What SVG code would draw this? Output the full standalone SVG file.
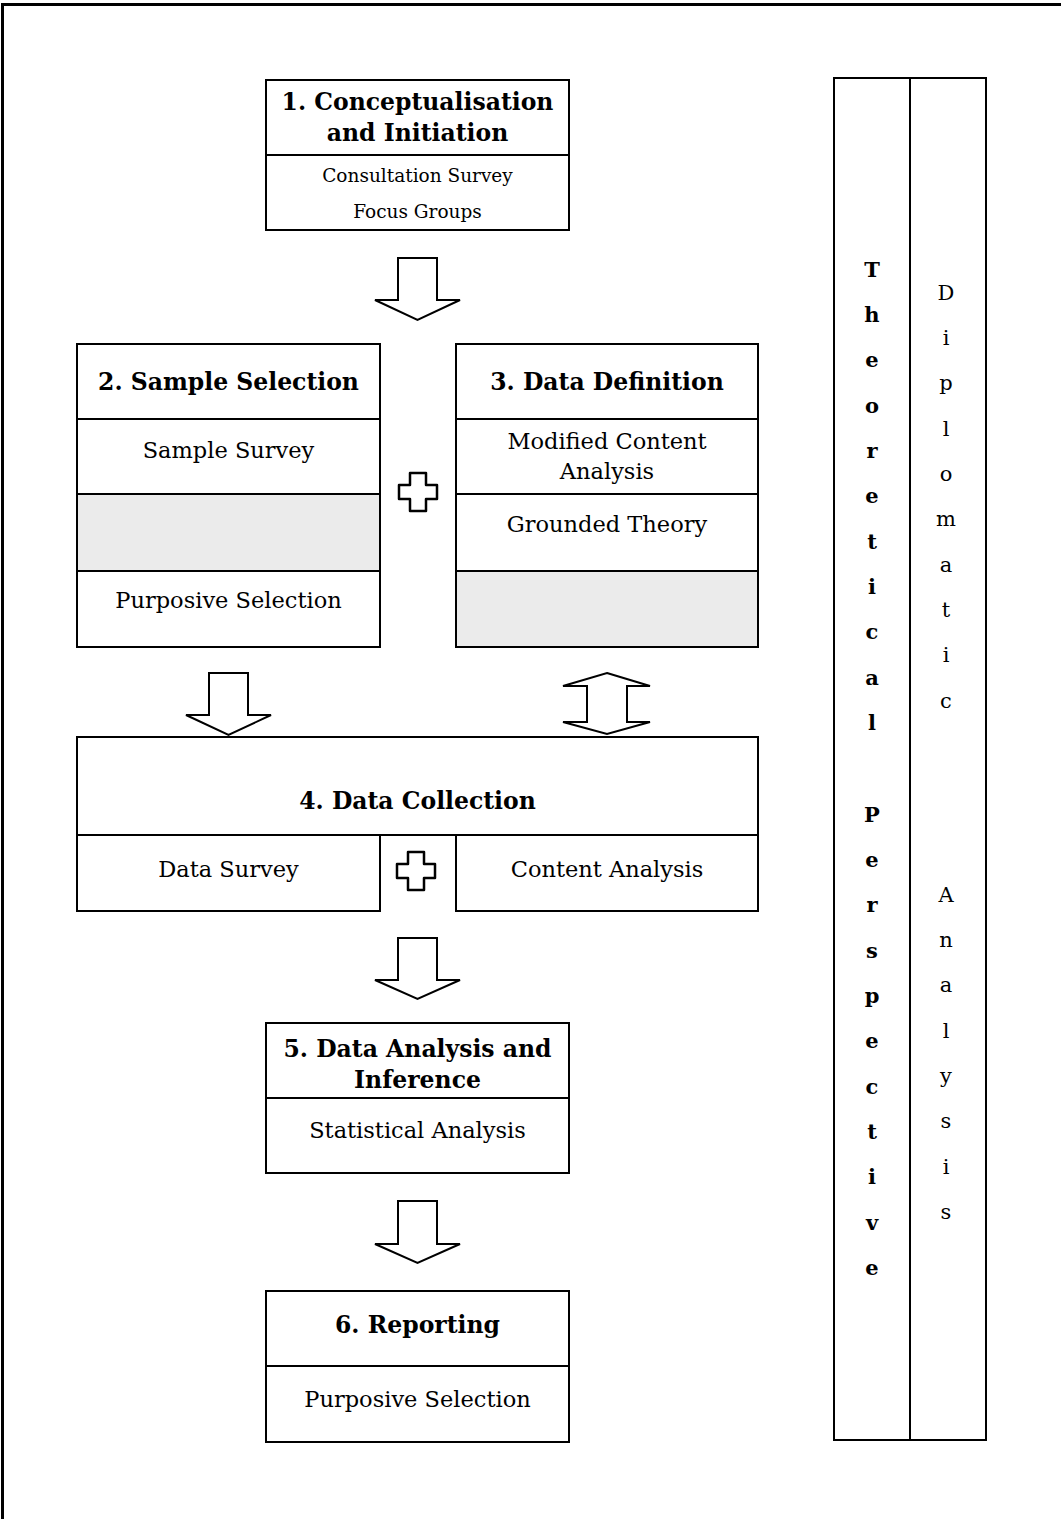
<svg xmlns="http://www.w3.org/2000/svg" xmlns:xlink="http://www.w3.org/1999/xlink" width="1061" height="1519" viewBox="0 0 1061 1519">
<style>
.box{fill:#fff;stroke:#000;stroke-width:2}
.gray{fill:#ebebeb;stroke:#000;stroke-width:2}
.arr{fill:#fff;stroke:#000;stroke-width:2;stroke-linejoin:miter}
.t{font-family:"DejaVu Serif","Liberation Serif",serif;fill:#000;text-anchor:middle}
.b{font-weight:bold;font-size:23.5px}
.s{font-size:22.5px}
.xs{font-size:18.5px}
.v{font-family:"DejaVu Serif","Liberation Serif",serif;font-size:21px;text-anchor:middle}
</style>
<defs>
<path id="plus" d="M-8,-19 H8 V-7 H19 V7 H8 V19 H-8 V7 H-19 V-7 H-8 Z" fill="#fff" stroke="#000" stroke-width="2.5" stroke-linejoin="round"/>
</defs>
<path d="M2.5,1519 V4.5 H1061" fill="none" stroke="#000" stroke-width="3"/>

<g id="connectors">
<polygon class="arr" points="398,258 437,258 437,300 460,300 417.5,320 375,300 398,300"/>
<polygon class="arr" points="209,673 248,673 248,715 271,715 228.5,735 186,715 209,715"/>
<polygon class="arr" points="607,673 650,686 627,686 627,722 650,722 607,734 563,722 587,722 587,686 563,686"/>
<polygon class="arr" points="398,938 437,938 437,980 460,980 417.5,999 375,980 398,980"/>
<polygon class="arr" points="398,1201 437,1201 437,1244 460,1244 417.5,1263 375,1244 398,1244"/>
<use xlink:href="#plus" x="418" y="492"/>
<use xlink:href="#plus" x="416" y="871"/>
</g>

<g id="node1">
<rect class="box" x="266" y="80" width="303" height="150"/>
<line x1="266" y1="155" x2="569" y2="155" stroke="#000" stroke-width="2"/>
<text class="t b" x="417.5" y="110">1. Conceptualisation</text>
<text class="t b" x="417.5" y="141">and Initiation</text>
<text class="t xs" x="417.5" y="182">Consultation Survey</text>
<text class="t xs" x="417.5" y="218">Focus Groups</text>
</g>

<g id="node2">
<rect class="box" x="77" y="344" width="303" height="303"/>
<line x1="77" y1="419" x2="380" y2="419" stroke="#000" stroke-width="2"/>
<rect class="gray" x="77" y="494" width="303" height="77"/>
<text class="t b" x="228.5" y="390">2. Sample Selection</text>
<text class="t s" x="228.5" y="458">Sample Survey</text>
<text class="t s" x="228.5" y="608">Purposive Selection</text>
</g>

<g id="node3">
<rect class="box" x="456" y="344" width="302" height="303"/>
<line x1="456" y1="419" x2="758" y2="419" stroke="#000" stroke-width="2"/>
<line x1="456" y1="494" x2="758" y2="494" stroke="#000" stroke-width="2"/>
<rect class="gray" x="456" y="571" width="302" height="76"/>
<text class="t b" x="607" y="390">3. Data Definition</text>
<text class="t s" x="607" y="449">Modified Content</text>
<text class="t s" x="607" y="479">Analysis</text>
<text class="t s" x="607" y="532">Grounded Theory</text>
</g>

<g id="node4">
<rect class="box" x="77" y="737" width="681" height="98"/>
<rect class="box" x="77" y="835" width="303" height="76"/>
<rect class="box" x="456" y="835" width="302" height="76"/>
<text class="t b" x="417.5" y="809">4. Data Collection</text>
<text class="t s" x="228.5" y="877">Data Survey</text>
<text class="t s" x="607" y="877">Content Analysis</text>
</g>

<g id="node5">
<rect class="box" x="266" y="1023" width="303" height="150"/>
<line x1="266" y1="1098" x2="569" y2="1098" stroke="#000" stroke-width="2"/>
<text class="t b" x="417.5" y="1057">5. Data Analysis and</text>
<text class="t b" x="417.5" y="1088">Inference</text>
<text class="t s" x="417.5" y="1138">Statistical Analysis</text>
</g>

<g id="node6">
<rect class="box" x="266" y="1291" width="303" height="151"/>
<line x1="266" y1="1366" x2="569" y2="1366" stroke="#000" stroke-width="2"/>
<text class="t b" x="417.5" y="1333">6. Reporting</text>
<text class="t s" x="417.5" y="1407">Purposive Selection</text>
</g>

<g id="theoretical">
<rect class="box" x="834" y="78" width="76" height="1362"/>
<text class="v" font-weight="bold" x="872"><tspan x="872" y="277">T</tspan><tspan x="872" y="322">h</tspan><tspan x="872" y="367">e</tspan><tspan x="872" y="413">o</tspan><tspan x="872" y="458">r</tspan><tspan x="872" y="503">e</tspan><tspan x="872" y="549">t</tspan><tspan x="872" y="594">i</tspan><tspan x="872" y="639">c</tspan><tspan x="872" y="685">a</tspan><tspan x="872" y="730">l</tspan><tspan x="872" y="822">P</tspan><tspan x="872" y="867">e</tspan><tspan x="872" y="912">r</tspan><tspan x="872" y="958">s</tspan><tspan x="872" y="1003">p</tspan><tspan x="872" y="1048">e</tspan><tspan x="872" y="1094">c</tspan><tspan x="872" y="1139">t</tspan><tspan x="872" y="1184">i</tspan><tspan x="872" y="1230">v</tspan><tspan x="872" y="1275">e</tspan></text>
</g>

<g id="diplomatic">
<rect class="box" x="910" y="78" width="76" height="1362"/>
<text class="v" x="946"><tspan x="946" y="300">D</tspan><tspan x="946" y="345">i</tspan><tspan x="946" y="390">p</tspan><tspan x="946" y="436">l</tspan><tspan x="946" y="481">o</tspan><tspan x="946" y="526">m</tspan><tspan x="946" y="572">a</tspan><tspan x="946" y="617">t</tspan><tspan x="946" y="662">i</tspan><tspan x="946" y="708">c</tspan><tspan x="946" y="902">A</tspan><tspan x="946" y="947">n</tspan><tspan x="946" y="992">a</tspan><tspan x="946" y="1038">l</tspan><tspan x="946" y="1083">y</tspan><tspan x="946" y="1128">s</tspan><tspan x="946" y="1174">i</tspan><tspan x="946" y="1219">s</tspan></text>
</g>
</svg>
